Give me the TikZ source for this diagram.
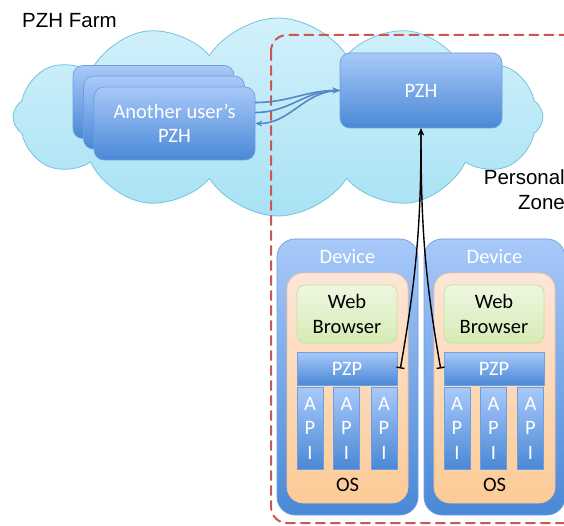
\documentclass[tikz,border=0pt]{standalone}
\usepackage{fontspec}
\setmainfont{Carlito}
\newfontfamily\arialfont{Liberation Sans}
\usepackage{tikz}
\usetikzlibrary{arrows.meta}
\usetikzlibrary{shapes.symbols}
\usetikzlibrary{positioning}

\definecolor{cloudtop}{HTML}{D2F1FB}
\definecolor{cloudbot}{HTML}{A8E2F4}
\definecolor{cloudline}{HTML}{74C3DD}
\definecolor{boxtop}{HTML}{A8C9F9}
\definecolor{boxbot}{HTML}{4A88D6}
\definecolor{boxline}{HTML}{6E9FE0}
\definecolor{ostop}{HTML}{FDE6D8}
\definecolor{osbot}{HTML}{FCCB96}
\definecolor{osline}{HTML}{F5C29E}
\definecolor{webtop}{HTML}{EEF7E1}
\definecolor{webbot}{HTML}{D6EBB5}
\definecolor{webline}{HTML}{C5DFA0}
\definecolor{zonered}{HTML}{CB5652}
\definecolor{linkblue}{HTML}{5586C8}

\begin{document}
\begin{tikzpicture}[x=1pt, y=-1pt, line cap=round, line join=round, >=stealth,
    txt/.style={font=\fontsize{20.5}{24.5}\selectfont, inner sep=0pt},
    bluebox/.style={txt, draw=boxline, line width=0.7pt, rounded corners=10pt,
      top color=boxtop, bottom color=boxbot, text=white, align=center},
    devbox/.style={bluebox, rounded corners=18pt, minimum width=141pt, minimum height=276pt},
    osbox/.style={draw=osline, line width=0.7pt, rounded corners=16pt,
      top color=ostop, bottom color=osbot, minimum width=121pt, minimum height=230pt},
    webbox/.style={txt, draw=webline, line width=0.7pt, rounded corners=8pt,
      top color=webtop, bottom color=webbot, align=center, minimum width=100pt, minimum height=58pt},
    pzpbox/.style={bluebox, rounded corners=0pt, minimum width=100pt, minimum height=33pt},
    apibox/.style={bluebox, rounded corners=0pt, minimum width=26pt, minimum height=82pt},
    stackbox/.style={bluebox, minimum width=161pt, minimum height=73pt},
    link/.style={linkblue, line width=1.6pt, -{Stealth[length=7pt, width=6pt]}},
    tie/.style={black, line width=1.4pt, {Bar[width=8pt]}-{Stealth[length=7pt, width=6pt]}}]
  \useasboundingbox (0,0) rectangle (564,526);
  \clip (0,0) rectangle (564,526);
  \fill[white] (0,0) rectangle (564,526);
  %--- PZH Farm cloud
    \node[cloud, cloud puffs=12, cloud puff arc=115, aspect=2.65, shape border rotate=8, draw=cloudline, line width=0.8pt,
      top color=cloudtop, bottom color=cloudbot, minimum width=530pt, minimum height=198pt] (farm) at (278,117) {};
    \node[txt, font=\arialfont\fontsize{20.5}{24.5}\selectfont, anchor=base west] (farmlbl) at (22,27.5) {PZH Farm};
  %--- Personal Zone
    \draw[zonered, line width=2pt, dash pattern=on 9pt off 6pt, rounded corners=16pt] (271,35) rectangle (640,523);
    \node[txt, font=\arialfont\fontsize{20.5}{25}\selectfont, align=right, anchor=north east] (zonelbl) at (565,169) {Personal\\Zone};
  %--- Another user's PZH
    \node[stackbox] (userc) at (153.5,102) {};
    \node[stackbox] (userb) at (164,112.5) {};
    \node[stackbox] (usera) at (174.5,123.5) {Another user’s\\PZH};
  %--- PZH
    \node[bluebox, minimum width=162pt, minimum height=75pt] (pzh) at (421,90.5) {PZH};
    \draw[link] ([yshift=21pt]usera.east) to[out=0, in=180] (pzh.west);
    \draw[link] ([yshift=11pt]usera.east) to[out=0, in=180] (pzh.west);
    \draw[link] (pzh.west) to[out=180, in=0] (usera.east);
  %--- Device 1
    \node[devbox] (devA) at (347.5,377) {};
    \node[txt, text=white] (devlblA) at (347.5,257) {Device};
    \node[osbox] (osA) at (347.5,388) {};
    \node[txt] (oslblA) at (347.5,485) {OS};
    \node[webbox] (webA) at (347,314) {Web\\Browser};
    \node[pzpbox] (pzpA) at (347,368.5) {PZP};
    \node[apibox] (apiAa) at (310,428) {A\\P\\I};
    \node[apibox] (apiAb) at (346.5,428) {A\\P\\I};
    \node[apibox] (apiAc) at (384,428) {A\\P\\I};
  %--- Device 2
    \node[devbox] (devB) at (494.5,377) {};
    \node[txt, text=white] (devlblB) at (494.5,257) {Device};
    \node[osbox] (osB) at (494.5,388) {};
    \node[txt] (oslblB) at (494.5,485) {OS};
    \node[webbox] (webB) at (494,314) {Web\\Browser};
    \node[pzpbox] (pzpB) at (494,368.5) {PZP};
    \node[apibox] (apiBa) at (457,428) {A\\P\\I};
    \node[apibox] (apiBb) at (493.5,428) {A\\P\\I};
    \node[apibox] (apiBc) at (530.5,428) {A\\P\\I};
  %--- PZP to PZH
    \draw[tie] ([xshift=3pt]pzpA.east) to[out=80, in=-90] (pzh.south);
    \draw[tie] ([xshift=-3pt]pzpB.west) to[out=100, in=-90] (pzh.south);
\end{tikzpicture}
\end{document}
